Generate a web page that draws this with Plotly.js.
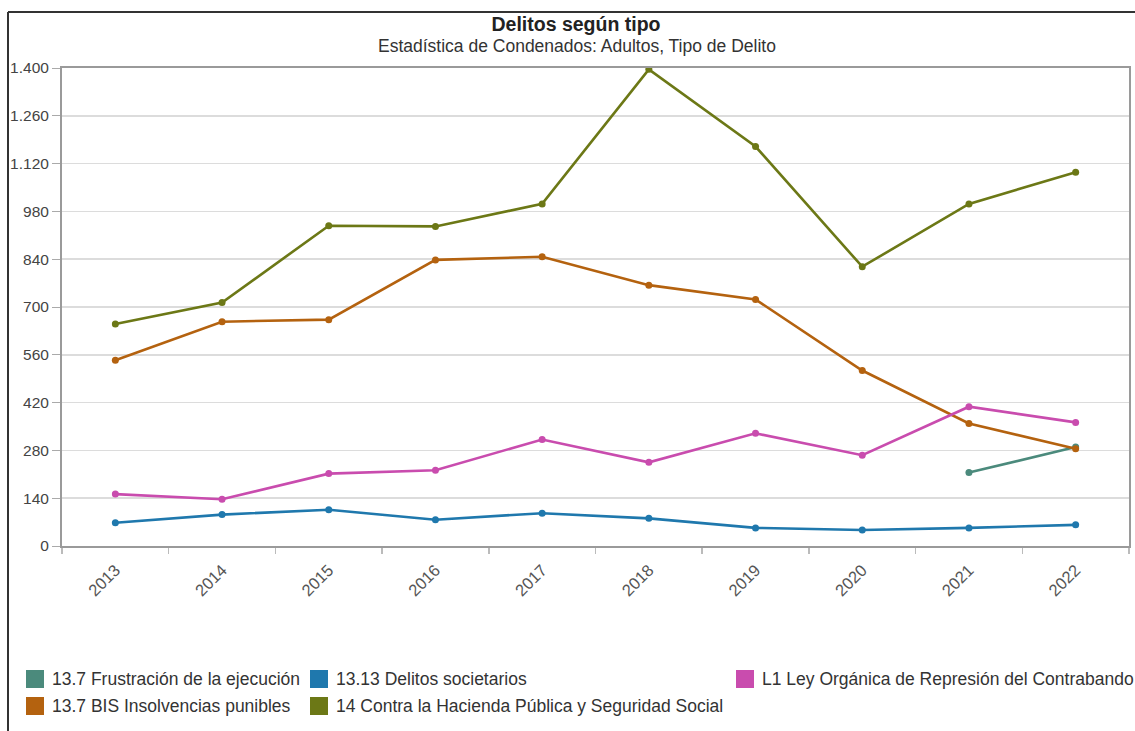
<!DOCTYPE html>
<html>
<head>
<meta charset="utf-8">
<script src="https://cdn.plot.ly/plotly-3.0.1.min.js"></script>
<style>
  html, body { margin: 0; padding: 0; background: #fff; }
  #chart { width: 1135px; height: 731px; }
</style>
</head>
<body>
<div id="chart"></div>
<script>
// ---- Data ----
const years = ['2013','2014','2015','2016','2017','2018','2019','2020','2021','2022'];
const frustracion = [null, null, null, null, null, null, null, null, 215, 290];
const insolvencias = [544, 657, 663, 838, 847, 764, 722, 514, 359, 285];
const societarios = [68, 92, 106, 77, 96, 81, 53, 47, 53, 62];
const hacienda = [650, 713, 938, 936, 1002, 1396, 1170, 818, 1002, 1095];
const contrabando = [152, 137, 212, 222, 312, 245, 330, 266, 408, 362];
const seriesNames = [
  '13.7 Frustración de la ejecución',
  '13.7 BIS Insolvencias punibles',
  '13.13 Delitos societarios',
  '14 Contra la Hacienda Pública y Seguridad Social',
  'L1 Ley Orgánica de Represión del Contrabando'
];
const seriesValues = [frustracion, insolvencias, societarios, hacienda, contrabando];
const seriesColors = ['#4b8a7c', '#b4620f', '#1f78ad', '#6c7816', '#c94cae'];
const yTickVals = [0, 140, 280, 420, 560, 700, 840, 980, 1120, 1260, 1400];
const yTickText = ['0', '140', '280', '420', '560', '700', '840', '980', '1.120', '1.260', '1.400'];
const titleText = 'Delitos según tipo';
const subtitleText = 'Estadística de Condenados: Adultos, Tipo de Delito';

// ---- Geometry helpers (pixel -> paper) ----
const W = 1135, H = 731;
const mL = 62, mR = 6, mT = 68, mB = 185;
const pw = W - mL - mR, ph = H - mT - mB;
const px = x => (x - mL) / pw;
const py = y => (H - mB - y) / ph;
const FONT = 'Liberation Sans, Arial, sans-serif';

const traces = seriesNames.map((name, i) => ({
  type: 'scatter',
  mode: 'lines+markers',
  name: name,
  x: years,
  y: seriesValues[i],
  line: { color: seriesColors[i], width: 2.6 },
  marker: { color: seriesColors[i], size: 7 },
  connectgaps: false,
  showlegend: false
}));

// Legend placement (pixel positions of squares)
const legendPos = [
  { x: 26, y: 670 },
  { x: 26, y: 697 },
  { x: 310, y: 670 },
  { x: 310, y: 697 },
  { x: 736, y: 670 }
];
const sq = 18;

const shapes = [
  { type: 'line', xref: 'paper', yref: 'paper', x0: px(8), x1: px(1140), y0: py(12), y1: py(12), line: { color: '#333', width: 2 } },
  { type: 'line', xref: 'paper', yref: 'paper', x0: px(8), x1: px(8), y0: py(12), y1: py(735), line: { color: '#333', width: 2 } }
];
const annotations = [
  { text: subtitleText, xref: 'paper', yref: 'paper', x: px(577), y: py(46), xanchor: 'center', yanchor: 'middle', showarrow: false, font: { family: FONT, size: 17.5, color: '#333' } }
];
seriesNames.forEach((name, i) => {
  const p = legendPos[i];
  shapes.push({ type: 'rect', xref: 'paper', yref: 'paper', x0: px(p.x), x1: px(p.x + sq), y0: py(p.y), y1: py(p.y + sq), fillcolor: seriesColors[i], line: { width: 0 } });
  annotations.push({ text: name, xref: 'paper', yref: 'paper', x: px(p.x + sq + 6), y: py(p.y + sq / 2), xanchor: 'left', yanchor: 'middle', showarrow: false, font: { family: FONT, size: 17.5, color: '#333' } });
});

const layout = {
  width: W, height: H,
  margin: { l: mL, r: mR, t: mT, b: mB, pad: 0 },
  paper_bgcolor: '#fff',
  plot_bgcolor: '#fff',
  font: { family: FONT, color: '#444' },
  title: {
    text: '<b>' + titleText + '</b>',
    x: 576 / W, xref: 'container', xanchor: 'center',
    y: 1 - 24 / H, yref: 'container', yanchor: 'middle',
    font: { size: 19.5, color: '#222', family: FONT }
  },
  xaxis: {
    type: 'category',
    range: [-0.5, 9.5],
    tickson: 'boundaries',
    ticks: 'outside', ticklen: 6, tickcolor: '#bbb', tickwidth: 1.5,
    tickangle: -45,
    ticklabelstandoff: 6,
    tickfont: { size: 16.5, color: '#555' },
    showgrid: false,
    showline: true, linecolor: '#9a9a9a', linewidth: 2, mirror: true,
    zeroline: false, fixedrange: true
  },
  yaxis: {
    range: [0, 1400],
    tickmode: 'array', tickvals: yTickVals, ticktext: yTickText,
    ticks: 'outside', ticklen: 8, tickcolor: '#aaa', tickwidth: 1,
    tickfont: { size: 15.5, color: '#444' },
    showgrid: true, gridcolor: '#dcdcdc', gridwidth: 1.5,
    showline: true, linecolor: '#9a9a9a', linewidth: 2, mirror: true,
    zeroline: false, fixedrange: true
  },
  showlegend: false,
  shapes: shapes,
  annotations: annotations
};

Plotly.newPlot('chart', traces, layout, { displayModeBar: false, staticPlot: true });
</script>
</body>
</html>
